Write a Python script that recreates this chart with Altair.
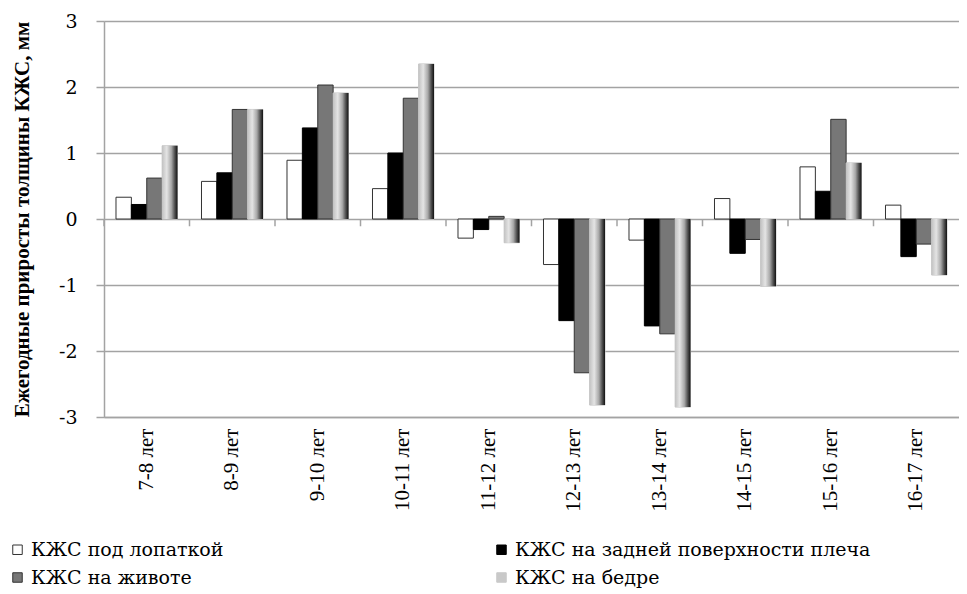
import altair as alt
import pandas as pd

cats = ["7-8 лет", "8-9 лет", "9-10 лет", "10-11 лет", "11-12 лет",
        "12-13 лет", "13-14 лет", "14-15 лет", "15-16 лет", "16-17 лет"]
series = ["КЖС под лопаткой", "КЖС на задней поверхности плеча",
          "КЖС на животе", "КЖС на бедре"]
s_lopatka = [0.33, 0.57, 0.89, 0.46, -0.29, -0.69, -0.32, 0.31, 0.79, 0.21]
s_plecho = [0.22, 0.70, 1.38, 1.00, -0.16, -1.54, -1.62, -0.52, 0.42, -0.57]
s_zhivot = [0.62, 1.66, 2.03, 1.83, 0.04, -2.33, -1.74, -0.31, 1.51, -0.38]
s_bedro = [1.11, 1.66, 1.91, 2.35, -0.36, -2.82, -2.85, -1.02, 0.85, -0.85]
y_ticks = [-3, -2, -1, 0, 1, 2, 3]

rows = []
for name, vals in zip(series, [s_lopatka, s_plecho, s_zhivot, s_bedro]):
    for c, v in zip(cats, vals):
        rows.append({"cat": c, "series": name, "value": v})
df = pd.DataFrame(rows)
ticks_df = pd.DataFrame({"cat": cats})

GRID = "#a3a3a3"

x_enc = alt.X("cat:N", sort=cats,
              scale=alt.Scale(domain=cats, paddingInner=0, paddingOuter=0),
              axis=alt.Axis(title=None, labelAngle=-90, labelFont="Liberation Serif",
                            labelFontSize=21, labelColor="black", ticks=False,
                            domainColor=GRID, domainWidth=1.5, labelPadding=11))
xoff_enc = alt.XOffset("series:N", sort=series,
                       scale=alt.Scale(domain=series, paddingInner=0, paddingOuter=0.78))
y_enc = alt.Y("value:Q",
              scale=alt.Scale(domain=[-3, 3], nice=False),
              axis=alt.Axis(values=y_ticks, labelExpr="'' + datum.value",
                            grid=True, gridColor=GRID, gridWidth=1.5,
                            domainColor=GRID, domainWidth=1.5,
                            tickColor=GRID, tickWidth=1.5, tickSize=8,
                            labelFont="DejaVu Serif", labelFontSize=19,
                            labelColor="black", labelPadding=19,
                            title="Ежегодные приросты толщины КЖС, мм",
                            titleFont="Liberation Serif", titleFontSize=21,
                            titleFontWeight="bold", titleColor="black",
                            titleX=-72, titleY=198))

bars = alt.Chart(df).mark_bar(strokeWidth=1).encode(
    x=x_enc,
    xOffset=xoff_enc,
    y=y_enc,
    fill=alt.Fill("series:N", sort=series,
                  scale=alt.Scale(domain=series,
                                  range=["#ffffff", "#000000", "#777777", "#c9c9c9"]),
                  legend=alt.Legend(orient="none", legendX=-96, legendY=519,
                                    direction="horizontal",
                                    columns=2, columnPadding=268, rowPadding=8,
                                    symbolType="square", symbolSize=90,
                                    symbolStrokeColor="#333333", symbolStrokeWidth=1,
                                    labelFont="DejaVu Serif", labelFontSize=19,
                                    labelColor="black", labelOffset=4,
                                    labelLimit=700, title=None)),
    stroke=alt.Stroke("series:N", sort=series,
                      scale=alt.Scale(domain=series,
                                      range=["#333333", "#000000", "#333333", "#c9c9c9"]),
                      legend=None),
)

grad = alt.Chart(df).transform_filter(
    alt.datum.series == series[3]
).mark_bar(
    fill=alt.Gradient(
        gradient="linear",
        x1=0, x2=1, y1=0, y2=0,
        stops=[alt.GradientStop(color="#c2c2c2", offset=0),
               alt.GradientStop(color="#e4e4e4", offset=0.3),
               alt.GradientStop(color="#a8a8a8", offset=0.6),
               alt.GradientStop(color="#505050", offset=0.82),
               alt.GradientStop(color="#111111", offset=1)]),
    strokeWidth=0,
).encode(x=alt.X("cat:N", sort=cats), xOffset=alt.XOffset("series:N", sort=series), y="value:Q")

ticks = alt.Chart(ticks_df).mark_rule(color=GRID, strokeWidth=1.5).encode(
    x=alt.X("cat:N", sort=cats, bandPosition=0),
    y=alt.datum(0),
    y2=alt.datum(-0.11),
)

chart = alt.layer(bars, grad, ticks).properties(
    width=855, height=396,
    autosize="none",
    padding={"left": 96, "top": 13, "right": 0, "bottom": 173},
).configure_view(stroke=None).configure(background="white")

chart.save("out.html", embed_options={"renderer": "svg", "actions": False})
